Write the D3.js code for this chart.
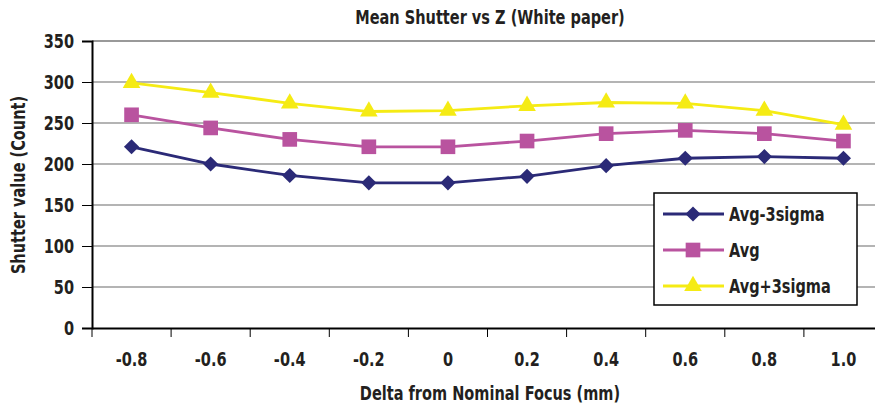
<!DOCTYPE html>
<meta charset="utf-8">
<script src="https://cdn.jsdelivr.net/npm/d3@7"></script>
<style>
  body { margin: 0; background: #fff; }
  svg text { font-family: "DejaVu Sans Condensed", "Liberation Sans Narrow", sans-serif; font-weight: bold; fill: #231f20; font-size: 19px; }
  .grid line { stroke: #b4b4b4; stroke-width: 2px; }
</style>
<div id="chart"></div>
<script>
  // categories and series values
  const focus = ["-0.8", "-0.6", "-0.4", "-0.2", "0", "0.2", "0.4", "0.6", "0.8", "1.0"];
  const avgMinus = [221, 200, 186, 177, 177, 185, 198, 207, 209, 207];
  const avg = [260, 244, 230, 221, 221, 228, 237, 241, 237, 228];
  const avgPlus = [299, 287, 274, 264, 265, 271, 275, 274, 265, 248];
  const yTicks = [0, 50, 100, 150, 200, 250, 300, 350];

  // diamond = square turned 45deg
  const series = [
    { name: "Avg-3sigma", values: avgMinus, color: "#2b2a77", symbol: d3.symbolSquare, size: 115, rot: 45 },
    { name: "Avg", values: avg, color: "#b9539f", symbol: d3.symbolSquare, size: 215, rot: 0 },
    { name: "Avg+3sigma", values: avgPlus, color: "#f5eb14", symbol: d3.symbolTriangle, size: 135, rot: 0 }
  ];

  const W = 875, H = 408;
  const margin = { top: 41, right: -8, bottom: 80, left: 92 };
  const width = W - margin.left - margin.right,
    height = H - margin.top - margin.bottom;

  const svg = d3.select("#chart").append("svg")
    .attr("width", W).attr("height", H);
  const g = svg.append("g").attr("transform", `translate(${margin.left},${margin.top})`);

  const x = d3.scaleBand().domain(focus).range([0, width]);
  const y = d3.scaleLinear().domain([0, 350]).range([height, 0]);

  // gridlines
  g.append("g").attr("class", "grid")
    .selectAll("line").data(yTicks.filter(d => d > 0)).join("line")
    .attr("x1", 0).attr("x2", width)
    .attr("y1", d => y(d)).attr("y2", d => y(d))
    .style("stroke", d => d === 350 ? "#999" : null);

  // y axis
  const yAxis = g.append("g")
    .call(d3.axisLeft(y).tickValues(yTicks).tickSize(10).tickPadding(8));
  yAxis.select(".domain").attr("stroke", "#000").attr("stroke-width", 2);
  yAxis.selectAll(".tick line").attr("stroke", "#000");

  // x axis, ticks on band boundaries
  const xAxis = g.append("g").attr("transform", `translate(0,${height})`)
    .call(d3.axisBottom(x).tickSize(0).tickPadding(25));
  xAxis.select(".domain").attr("stroke", "#000").attr("stroke-width", 2);
  xAxis.append("g").selectAll("line").data(focus).join("line")
    .attr("x1", d => x(d)).attr("x2", d => x(d))
    .attr("y1", 0).attr("y2", 9).attr("stroke", "#000");

  // lines and markers
  const line = d3.line()
    .x((d, i) => x(focus[i]) + x.bandwidth() / 2)
    .y(d => y(d));

  series.forEach(s => {
    g.append("path").datum(s.values)
      .attr("fill", "none").attr("stroke", s.color).attr("stroke-width", 2.8)
      .attr("d", line);
    g.append("g").selectAll("path").data(s.values).join("path")
      .attr("d", d3.symbol().type(s.symbol).size(s.size))
      .attr("transform", (d, i) => `translate(${x(focus[i]) + x.bandwidth() / 2},${y(d)}) rotate(${s.rot})`)
      .attr("fill", s.color);
  });

  // titles
  svg.append("text").attr("x", 490).attr("y", 24).attr("text-anchor", "middle")
    .text("Mean Shutter vs Z (White paper)");
  svg.append("text").attr("x", 490).attr("y", 400).attr("text-anchor", "middle")
    .text("Delta from Nominal Focus (mm)");
  svg.append("text").attr("transform", "translate(25,185) rotate(-90)")
    .attr("text-anchor", "middle")
    .text("Shutter value (Count)");

  // legend
  const lg = svg.append("g").attr("transform", "translate(654,193)");
  lg.append("rect").attr("width", 203).attr("height", 112)
    .attr("fill", "#fff").attr("stroke", "#000").attr("stroke-width", 1.5);
  series.forEach((s, i) => {
    const row = lg.append("g").attr("transform", `translate(0,${21 + i * 36})`);
    row.append("line").attr("x1", 9).attr("x2", 70)
      .attr("stroke", s.color).attr("stroke-width", 2.8);
    row.append("path").attr("d", d3.symbol().type(s.symbol).size(s.size))
      .attr("transform", `translate(39,0) rotate(${s.rot})`).attr("fill", s.color);
    row.append("text").attr("x", 75).attr("y", 7).text(s.name);
  });

  // squeeze the text sideways, the original face is a condensed one
  svg.selectAll("text").each(function () {
    const len = this.getComputedTextLength();
    d3.select(this).attr("textLength", len * 0.85).attr("lengthAdjust", "spacingAndGlyphs");
  });
</script>
